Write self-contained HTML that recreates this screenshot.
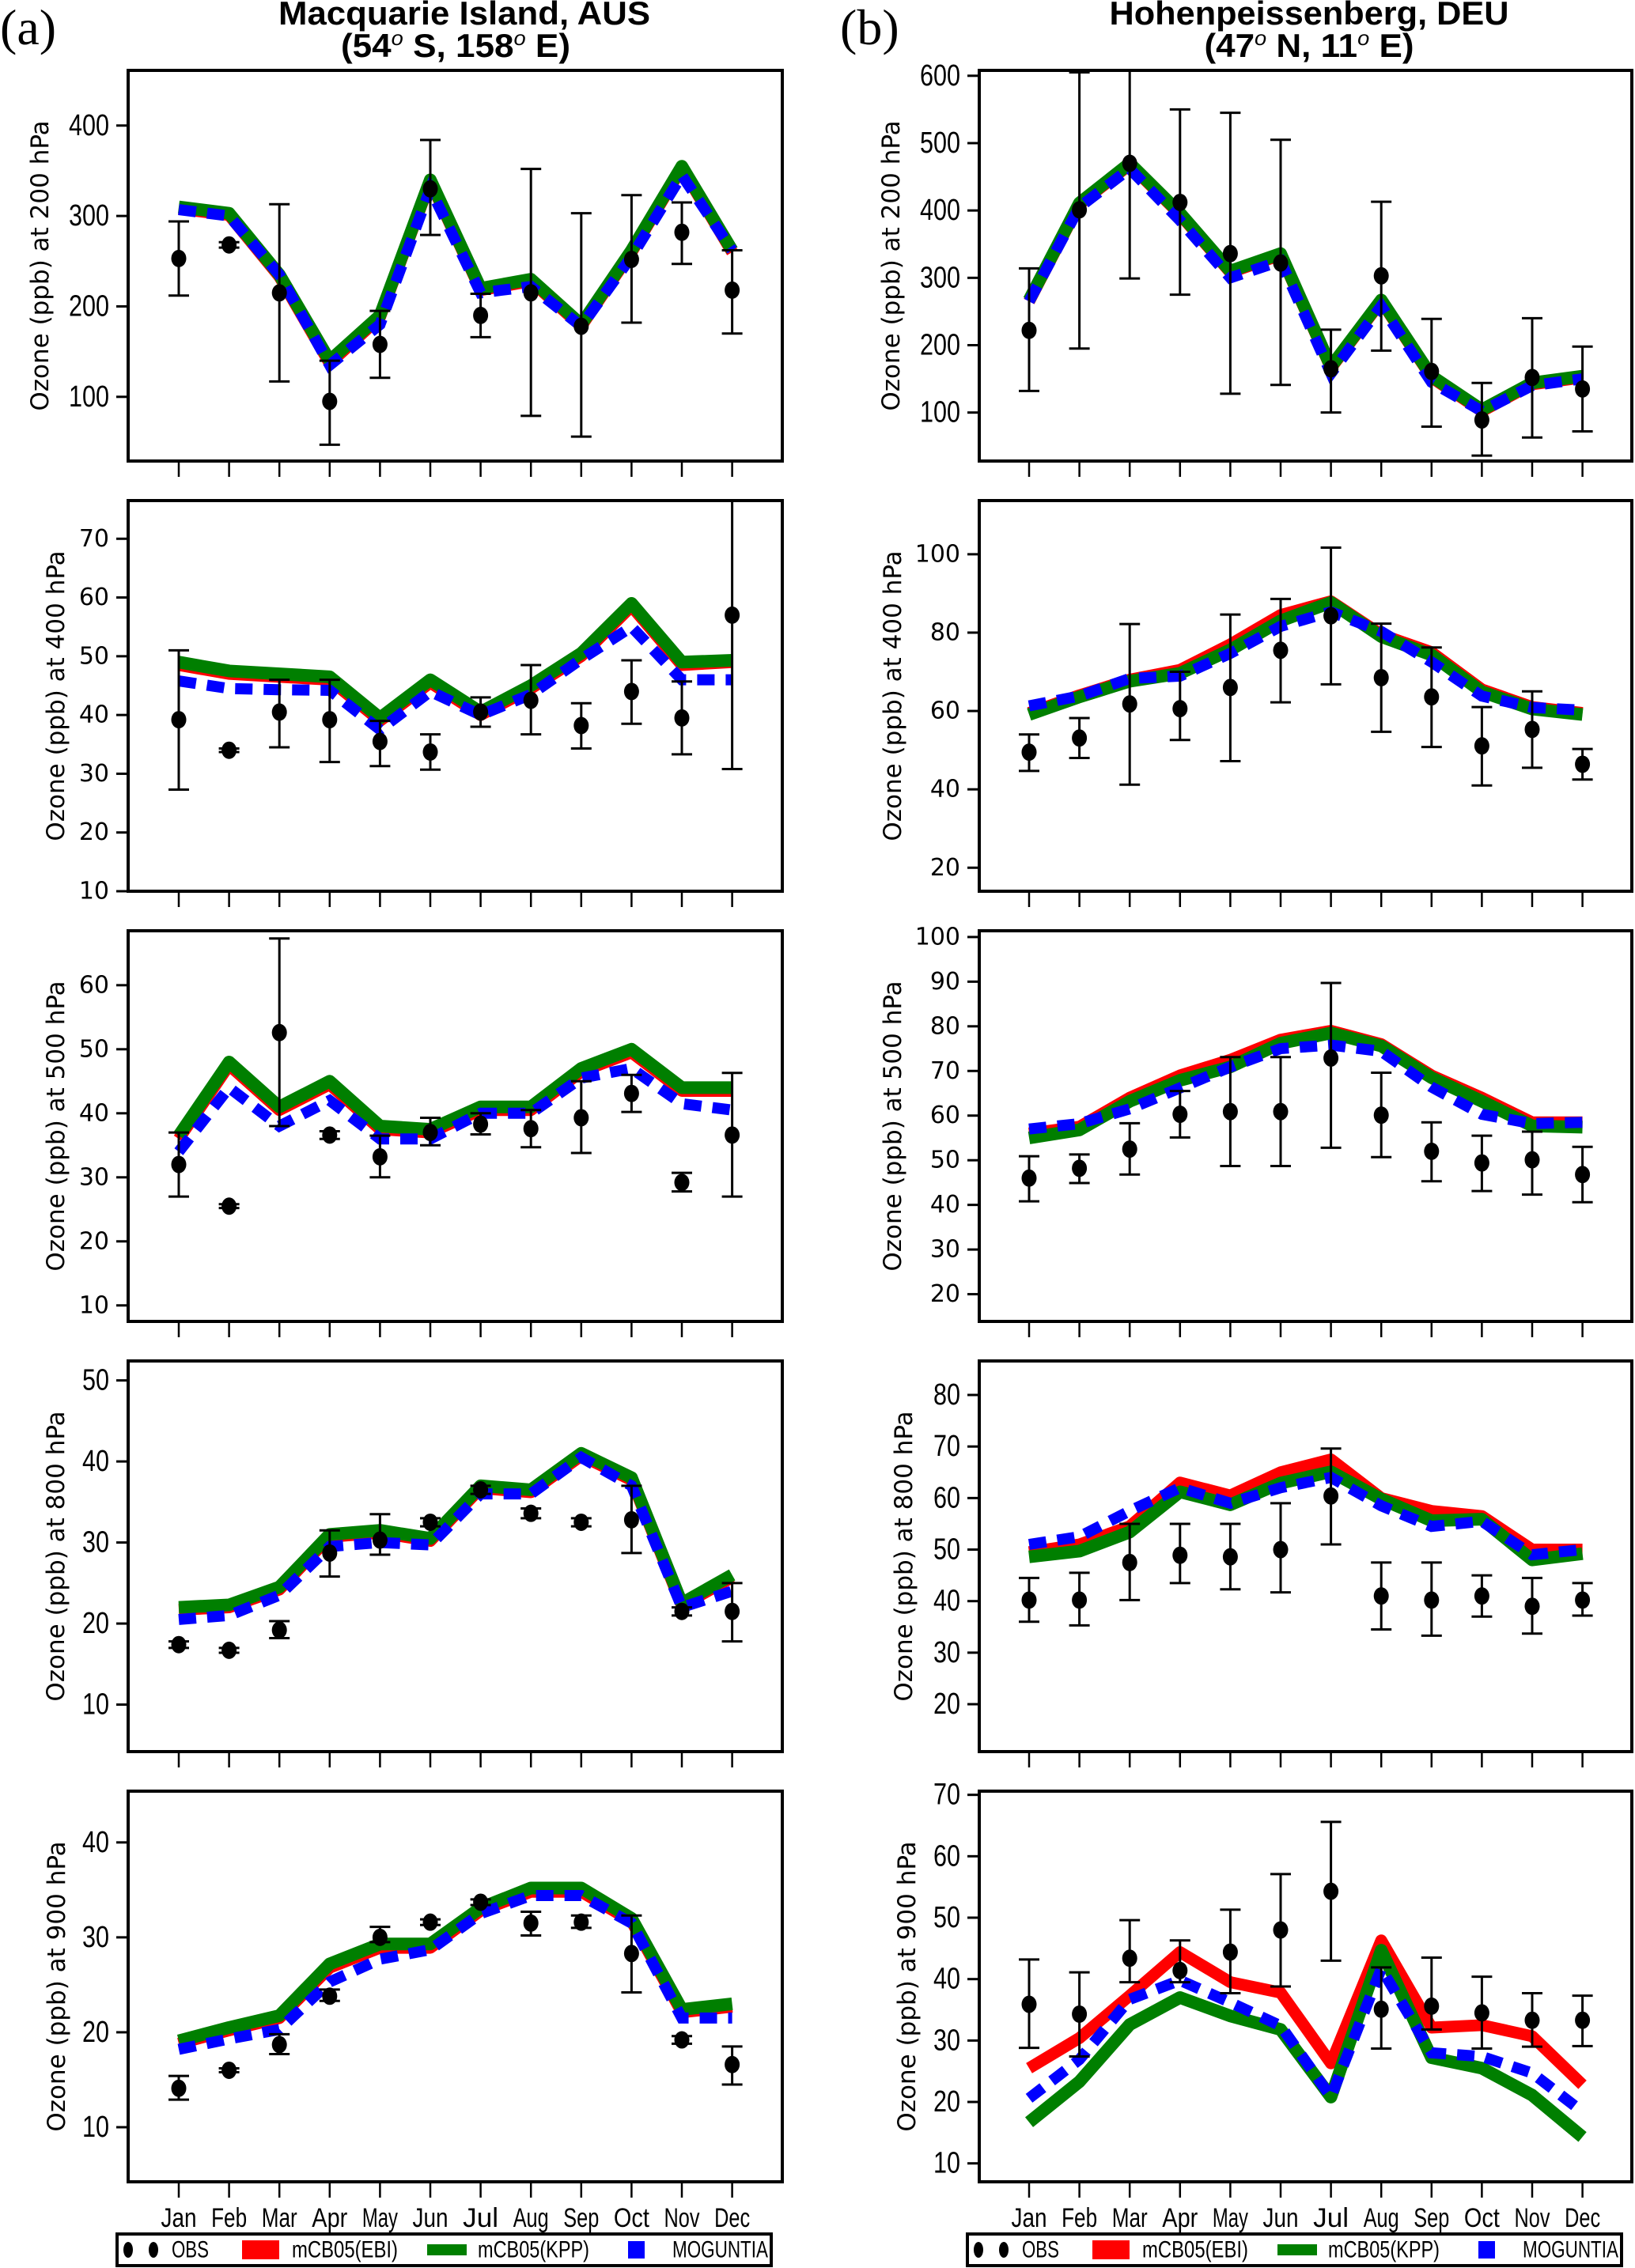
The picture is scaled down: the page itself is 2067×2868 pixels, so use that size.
<!DOCTYPE html>
<html><head><meta charset="utf-8"><style>
html,body{margin:0;padding:0;background:#fff;}
svg{display:block;}
</style></head><body>
<svg id="fig" xmlns="http://www.w3.org/2000/svg" width="2067" height="2868" viewBox="0 0 2067 2868">
<rect width="2067" height="2868" fill="#fff"/>
<text x="0" y="56" font-family="Liberation Serif, serif" font-size="64">(a)</text>
<text x="1062" y="56" font-family="Liberation Serif, serif" font-size="64">(b)</text>
<text x="587" y="31" text-anchor="middle" font-family="Liberation Sans, sans-serif" font-weight="bold" font-size="42" textLength="470" lengthAdjust="spacingAndGlyphs">Macquarie Island, AUS</text>
<text x="576" y="72" text-anchor="middle" font-family="Liberation Sans, sans-serif" font-weight="bold" font-size="42" textLength="290" lengthAdjust="spacingAndGlyphs">(54<tspan font-style="italic" font-weight="normal" font-size="26" dy="-15">o</tspan><tspan dy="15"> S, 158</tspan><tspan font-style="italic" font-weight="normal" font-size="26" dy="-15">o</tspan><tspan dy="15"> E)</tspan></text>
<text x="1655" y="31" text-anchor="middle" font-family="Liberation Sans, sans-serif" font-weight="bold" font-size="42" textLength="505" lengthAdjust="spacingAndGlyphs">Hohenpeissenberg, DEU</text>
<text x="1655" y="72" text-anchor="middle" font-family="Liberation Sans, sans-serif" font-weight="bold" font-size="42" textLength="265" lengthAdjust="spacingAndGlyphs">(47<tspan font-style="italic" font-weight="normal" font-size="26" dy="-15">o</tspan><tspan dy="15"> N, 11</tspan><tspan font-style="italic" font-weight="normal" font-size="26" dy="-15">o</tspan><tspan dy="15"> E)</tspan></text>
</svg>
<script>
const months = ["Jan","Feb","Mar","Apr","May","Jun","Jul","Aug","Sep","Oct","Nov","Dec"];
// Macquarie Island
const L200_obs=[253,268,215,95,158,330,190,215,178,252,282,218];
const L200_lo=[212,265,117,47,121,279,166,79,56,182,247,170];
const L200_hi=[294,271,313,140,195,384,214,352,303,323,315,262];
const L200_ebi=[308,301,233,137,188,338,218,228,178,260,353,260];
const L200_kpp=[310,303,235,140,190,340,220,230,180,262,355,262];
const L200_mog=[307,300,235,135,180,330,215,222,178,255,345,262];
const L400_obs=[39.2,34,40.5,39.2,35.5,33.7,40.5,42.5,38.2,44,39.5,57];
const L400_lo=[27.3,33.7,34.5,32,31.3,30.7,38,36.7,34.3,38.5,33.3,30.8];
const L400_hi=[51,34.3,46,46,39,36.7,43,48.5,42,49.3,45.7,76.5];
const L400_ebi=[48.5,47,46.5,46,39,45.5,40,44.5,50,58.5,48.5,49];
const L400_kpp=[49,47.5,47,46.5,39.5,46,40.5,45,50.5,59,49,49.3];
const L400_mog=[45.8,44.5,44.3,44.2,37.5,44,40,43.5,49.5,55,46,46];
const L500_obs=[32,25.5,52.6,36.6,33.2,37,38.3,37.6,39.3,43.1,29.2,36.6];
const L500_lo=[27,25.2,38,36,30,35,36.7,34.7,33.8,40.2,27.8,27];
const L500_hi=[37,25.8,67.3,37.2,36.5,39.3,40,40.5,45,46,30.7,46.3];
const L500_ebi=[36,47.5,40.5,44.5,37.5,37,40.5,40.5,46.5,49.5,43.5,43.5];
const L500_kpp=[36.5,48,41,45,38,37.5,41,41,47,50,44,44];
const L500_mog=[34,44,38,42,36,36,40,40,45.5,47,41.5,40.5];
const L800_obs=[17.4,16.7,19.2,28.7,30.3,32.5,36.5,33.6,32.5,32.8,21.5,21.5];
const L800_lo=[17,16.4,18.2,25.8,28.5,32,36,33,32,28.7,21,17.8];
const L800_hi=[17.8,17,20.3,31.5,33.5,33,37,34.2,33,37,22,25];
const L800_ebi=[21.7,22,24.2,30.7,31.2,30.2,36.7,36.2,40.7,37.7,22.2,25.7];
const L800_kpp=[22,22.3,24.5,31,31.5,30.5,37,36.5,41,38,22.5,26];
const L800_mog=[20.5,21,23.5,29.5,30,29.7,36,36,40.5,37,22,24];
const L900_obs=[14.1,16,18.7,23.8,30,31.6,33.7,31.5,31.6,28.3,19.2,16.6];
const L900_lo=[12.9,15.8,17.7,23.3,29.5,31.3,33.4,30.2,31,24.2,18.8,14.5];
const L900_hi=[15.4,16.2,19.8,24.5,31.1,31.9,34,32.7,32.3,32.3,19.6,18.5];
const L900_ebi=[18.8,20.2,21.5,26.8,28.9,28.9,32.8,34.8,34.8,31.7,22.1,22.7];
const L900_kpp=[19.1,20.5,21.75,27.2,29.3,29.3,33.1,35.2,35.2,32,22.4,23];
const L900_mog=[18.2,19.3,20.3,25.3,27.7,28.7,32.5,34.4,34.4,31.5,21.5,21.5];
// Hohenpeissenberg
const R200_obs=[222,401,470,412,336,322,165,303,161,89,152,135];
const R200_lo=[132,195,299,275,128,141,100,192,79,36,63,72];
const R200_hi=[314,605,620,550,545,505,223,413,239,144,240,198];
const R200_ebi=[265,409,468,394,308,334,166,265,152,102,142,152];
const R200_kpp=[267,411,470,396,310,336,168,267,154,104,144,154];
const R200_mog=[265,405,462,385,300,325,158,258,145,102,140,150];
const R400_obs=[49.5,53.1,61.8,60.6,66,75.5,84.3,68.5,63.6,51.1,55.3,46.4];
const R400_lo=[44.7,48,41.2,52.6,47.2,62.2,66.8,54.7,50.8,41,45.5,42.5];
const R400_hi=[54,58.2,82.2,70,84.6,88.6,101.7,82.3,76.2,61,65,50.3];
const R400_ebi=[59.5,64,68,70.5,77,84.5,88,79.5,75,65.5,61,59.5];
const R400_kpp=[59.1,63.6,67.6,69.6,75.6,83,87.7,79,74.3,64.9,60.5,59.1];
const R400_mog=[61.3,63.8,68.3,68.9,74.7,81.6,85.3,80.3,72.5,63.8,60.9,60.2];
const R500_obs=[46,48.2,52.5,60.3,60.9,60.9,72.9,60.1,52,49.4,50.1,46.8];
const R500_lo=[40.8,44.9,46.8,55.1,48.7,48.7,52.8,50.7,45.3,43.1,42.3,40.6];
const R500_hi=[50.9,51.3,58.3,65.5,73.1,73.1,89.7,69.6,58.5,55.5,56.4,53];
const R500_ebi=[56,57.5,64,69,72.5,77,79,76,69,64,58.5,58.5];
const R500_kpp=[55,56.8,63.2,67.9,70.9,76.2,78.5,75.6,68.5,63.2,57.7,57.4];
const R500_mog=[57,58.2,61.5,66.2,70.9,75,75.8,74.4,66.4,60.3,58.2,58.5];
const R800_obs=[40.2,40.2,47.5,48.9,48.6,50,60.4,41,40.2,41,39,40.2];
const R800_lo=[36,35.3,40.2,43.5,42.3,41.7,51,34.5,33.3,37,33.7,37.2];
const R800_hi=[44.5,45.5,55,55,55,59,69.6,47.5,47.5,45,44.5,43.5];
const R800_ebi=[49.5,51,54.5,63,60.5,65,67.5,60,57.5,56.5,50,50];
const R800_kpp=[48.6,49.7,53.4,61.2,58.7,62.9,65.1,59.8,55.6,55.9,48,49.2];
const R800_mog=[51,52.5,57.5,62,59,62,64,58.5,54.5,55.5,49,50];
const R900_obs=[35.9,34.3,43.4,41.4,44.4,48,54.3,35.1,35.6,34.5,33.3,33.3];
const R900_lo=[28.8,27.4,39.5,39.5,37.7,38.8,43,28.7,31.8,28.7,29,29.1];
const R900_hi=[43.2,41.1,49.6,46.3,51.3,57.1,65.6,41.9,43.5,40.4,37.7,37.3];
const R900_ebi=[25.5,30.4,37.3,44.4,39.5,37.8,26.3,46.3,32.1,32.5,30.7,22.8];
const R900_kpp=[16.7,23.3,32.6,37,34,31.8,20.8,44.7,27.2,25.5,21.1,14.3];
const R900_mog=[20.6,26.9,36.7,39.8,36.2,32.4,20.8,41.7,28,27.4,24.7,18.4];
// axis tick values
const L200_ticks=[100,200,300,400], L400_ticks=[10,20,30,40,50,60,70], L500_ticks=[10,20,30,40,50,60], L800_ticks=[10,20,30,40,50], L900_ticks=[10,20,30,40];
const R200_ticks=[100,200,300,400,500,600], R400_ticks=[20,40,60,80,100], R500_ticks=[20,30,40,50,60,70,80,90,100], R800_ticks=[20,30,40,50,60,70,80], R900_ticks=[10,20,30,40,50,60,70];

const NS="http://www.w3.org/2000/svg";
const svg=document.getElementById('fig');
function mk(tag,attrs,parent){const e=document.createElementNS(NS,tag);for(const k in attrs)e.setAttribute(k,attrs[k]);(parent||svg).appendChild(e);return e;}

const tops=[89,633,1177,1721,2265], H=494;
const levels=["200","400","500","800","900"];
const condensed=[true,false,false,true,true];
const cols=[
 {side:"left",x0:162,x1:989,xJan:226,ylab:[51,71,71,71,72],
  ranges:[[29,461],[10,76.5],[7.5,68.5],[4.2,52.4],[4.25,45.4]],
  data:[[L200_obs,L200_lo,L200_hi,L200_ebi,L200_kpp,L200_mog,L200_ticks],[L400_obs,L400_lo,L400_hi,L400_ebi,L400_kpp,L400_mog,L400_ticks],[L500_obs,L500_lo,L500_hi,L500_ebi,L500_kpp,L500_mog,L500_ticks],[L800_obs,L800_lo,L800_hi,L800_ebi,L800_kpp,L800_mog,L800_ticks],[L900_obs,L900_lo,L900_hi,L900_ebi,L900_kpp,L900_mog,L900_ticks]]},
 {side:"right",x0:1238,x1:2063,xJan:1301,ylab:[1127,1129,1129,1143,1147],
  ranges:[[28,608],[14,113.7],[13.9,101.4],[10.8,86.6],[7.0,70.6]],
  data:[[R200_obs,R200_lo,R200_hi,R200_ebi,R200_kpp,R200_mog,R200_ticks],[R400_obs,R400_lo,R400_hi,R400_ebi,R400_kpp,R400_mog,R400_ticks],[R500_obs,R500_lo,R500_hi,R500_ebi,R500_kpp,R500_mog,R500_ticks],[R800_obs,R800_lo,R800_hi,R800_ebi,R800_kpp,R800_mog,R800_ticks],[R900_obs,R900_lo,R900_hi,R900_ebi,R900_kpp,R900_mog,R900_ticks]]}
];
const STEP=63.6;

cols.forEach(c=>{
 for(let p=0;p<5;p++){
  const top=tops[p], bot=top+H, [ymin,ymax]=c.ranges[p];
  const [obs,lo,hi,ebi,kpp,mog,ticks]=c.data[p];
  const g=mk('g',{});
  
  
  const xs=i=>c.xJan+i*STEP;
  const ys=v=>bot-(v-ymin)/(ymax-ymin)*H;
  const clipId='clip-'+c.side+p;
  const cp=mk('clipPath',{id:clipId},g);
  mk('rect',{x:c.x0,y:top,width:c.x1-c.x0,height:H},cp);
  const plot=mk('g',{'clip-path':'url(#'+clipId+')'},g);
  ticks.forEach(t=>{
   const y=ys(t);
   const tk=mk('line',{x1:c.x0-15,x2:c.x0,y1:y,y2:y,stroke:'#000','stroke-width':3},g);
   
   
   const attrs={x:c.x0-24,y:y,'text-anchor':'end','dominant-baseline':'central','font-size':condensed[p]?38:30,'font-family':'DejaVu Sans, Liberation Sans, sans-serif'};
   if(condensed[p]){attrs['font-family']='Liberation Sans, sans-serif';attrs.textLength=String(t).length*17;attrs.lengthAdjust='spacingAndGlyphs';}
   const tl=mk('text',attrs,g);tl.textContent=t;
   
   
  });
  months.forEach((m,i)=>{
   const tk=mk('line',{x1:xs(i),x2:xs(i),y1:bot,y2:bot+20,stroke:'#000','stroke-width':2.5},g);
   
   
   if(p===4){
    const ml=mk('text',{x:xs(i),y:2805,'text-anchor':'middle','dominant-baseline':'central','font-family':'Liberation Sans, sans-serif','font-size':34,textLength:m.length*15,lengthAdjust:'spacingAndGlyphs'},g);
    ml.textContent=m;
    
    
   }
  });
  const yl=mk('text',{x:0,y:0,transform:'translate('+c.ylab[p]+','+(top+H/2)+') rotate(-90)','text-anchor':'middle','dominant-baseline':'central','font-family':'DejaVu Sans, sans-serif','font-size':31},g);
  yl.textContent='Ozone (ppb) at '+levels[p]+' hPa';
  
  
  const pts=arr=>arr.map((v,i)=>xs(i)+','+ys(v)).join(' ');
  const le=mk('polyline',{points:pts(ebi),fill:'none',stroke:'#ff0000','stroke-width':15,'stroke-linejoin':'round'},plot);
  
  
  const lk=mk('polyline',{points:pts(kpp),fill:'none',stroke:'#007f00','stroke-width':16,'stroke-linejoin':'round'},plot);
  
  
  const lm=mk('polyline',{points:pts(mog),fill:'none',stroke:'#0000ff','stroke-width':14,'stroke-dasharray':'22 14'},plot);
  
  
  obs.forEach((v,i)=>{
   const x=xs(i);
   const eb=mk('path',{d:'M'+x+','+ys(lo[i])+'V'+ys(hi[i])+'M'+(x-13)+','+ys(lo[i])+'H'+(x+13)+'M'+(x-13)+','+ys(hi[i])+'H'+(x+13),stroke:'#000','stroke-width':3,fill:'none'},plot);
   
   
   const dot=mk('ellipse',{cx:x,cy:ys(v),rx:9.5,ry:11,fill:'#000'},plot);
   
   
  });
  const fr=mk('rect',{x:c.x0,y:top,width:c.x1-c.x0,height:H,fill:'none',stroke:'#000','stroke-width':4},g);
  
  
 }
});
[0,1075].forEach((off,li)=>{
 const g=mk('g',{});
 
 
 mk('rect',{x:148+off,y:2825,width:827,height:40,fill:'#fff',stroke:'#000','stroke-width':4},g);
 const yc=2845;
 const d1=mk('ellipse',{cx:162+off,cy:yc,rx:6,ry:10,fill:'#000'},g);
 
 
 const d2=mk('ellipse',{cx:194+off,cy:yc,rx:6,ry:10,fill:'#000'},g);
 
 
 const items=[['OBS',217,47],['mCB05(EBI)',369,134],['mCB05(KPP)',604,141],['MOGUNTIA',850,121]];
 items.forEach(([t,x,w])=>{
  const tx=mk('text',{x:x+off,y:yc,'dominant-baseline':'central','font-family':'Liberation Sans, sans-serif','font-size':30,textLength:w,lengthAdjust:'spacingAndGlyphs'},g);
  tx.textContent=t;
  
  
 });
 mk('rect',{x:306+off,y:yc-12,width:47,height:24,fill:'#ff0000'},g);
 mk('line',{x1:540+off,x2:590+off,y1:yc,y2:yc,stroke:'#007f00','stroke-width':14},g);
 mk('rect',{x:794+off,y:yc-11,width:21,height:22,fill:'#0000ff'},g);
});
</script>
</body></html>
